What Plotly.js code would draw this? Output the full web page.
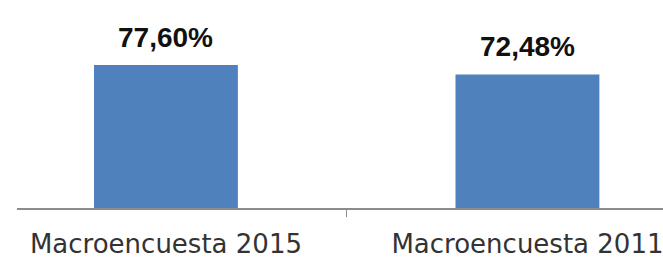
<!DOCTYPE html>
<html>
<head>
<meta charset="utf-8">
<script src="https://cdn.plot.ly/plotly-3.0.1.min.js"></script>
<style>html,body{margin:0;padding:0;background:#fff;overflow:hidden}#chart{width:663px;height:258px}</style>
</head>
<body>
<div id="chart"></div>
<script>
const categories = ["Macroencuesta 2015", "Macroencuesta 2011"];
const values = [77.60, 72.48];
const valueLabels = ["77,60%", "72,48%"];

const trace = {
  type: "bar",
  x: categories,
  y: values,
  width: 0.398,
  marker: {color: "#4F81BD"},
  hoverinfo: "none"
};

const annotations = categories.map((c, i) => ({
  x: c, y: values[i], xref: "x", yref: "y",
  text: "<b>" + valueLabels[i] + "</b>",
  showarrow: false, yanchor: "bottom", yshift: 10,
  font: {family: "Liberation Sans", size: 28, color: "#111111"}
}));

const layout = {
  width: 663, height: 258,
  margin: {l: 17, r: 0, t: 0, b: 50, pad: 0},
  paper_bgcolor: "#ffffff", plot_bgcolor: "#ffffff",
  showlegend: false,
  xaxis: {
    type: "category",
    range: [-0.412, 1.375],
    showline: true, linecolor: "#8c8c8c", linewidth: 2,
    tickson: "boundaries", ticks: "outside", ticklen: 7, tickcolor: "#8c8c8c", tickwidth: 1,
    ticklabelstandoff: 12,
    showgrid: false, zeroline: false,
    tickfont: {family: "DejaVu Sans", size: 26, color: "#333333"}
  },
  yaxis: {
    range: [0, 112.9], visible: false, showgrid: false, zeroline: false
  },
  annotations: annotations
};

Plotly.newPlot("chart", [trace], layout, {displayModeBar: false, staticPlot: true});
</script>
</body>
</html>
